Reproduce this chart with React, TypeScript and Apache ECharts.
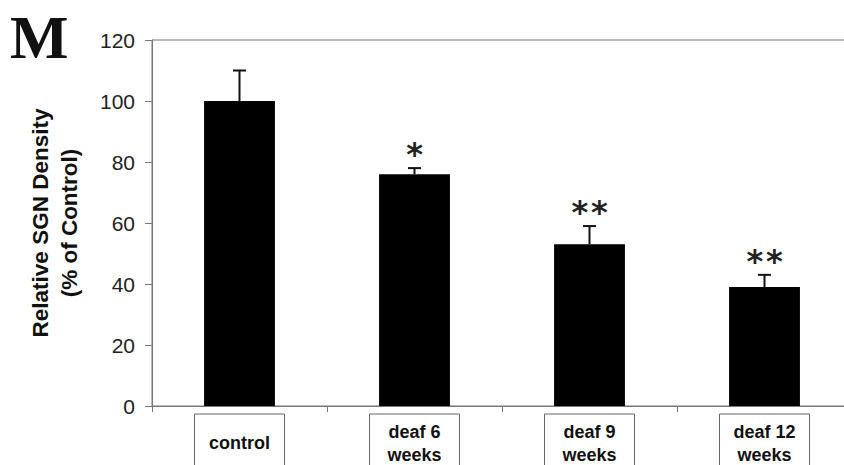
import React, { useEffect, useRef } from "react";
import * as echarts from "echarts";

const categories = ["control", "deaf 6\nweeks", "deaf 9\nweeks", "deaf 12\nweeks"];
const means = [100, 76, 53, 39];
const upperErrors = [10, 2, 6, 4];
const significance = ["", "*", "**", "**"];
const yTicks = { min: 0, max: 120, interval: 20 };
const panelLetter = "M";
const yTitle = "Relative SGN Density\n(% of Control)";

export default function App() {
  const ref = useRef<HTMLDivElement>(null);
  useEffect(() => {
    const chart = echarts.init(ref.current!, undefined, { renderer: "svg" });
    const errData = means.map((m, i) => [i, m, m + upperErrors[i]]);
    chart.setOption({
      animation: false,
      backgroundColor: "#fff",
      grid: {
        left: 152, right: -8, top: 40, bottom: 59,
        outerBoundsMode: "none", containLabel: false,
        show: true, borderColor: "#777", borderWidth: 1, backgroundColor: "transparent",
      },
      graphic: [
        {
          type: "text",
          left: 10,
          top: 6,
          style: { text: panelLetter, fontFamily: "Liberation Serif", fontWeight: "bold", fontSize: 62, lineHeight: 50, fill: "#111" },
        },
      ],
      xAxis: {
        type: "category",
        data: categories,
        axisLine: { lineStyle: { color: "#777", width: 1 } },
        axisTick: { show: true, length: 6, lineStyle: { color: "#777" } },
        axisLabel: {
          interval: 0,
          margin: 8,
          width: 90,
          height: 52,
          padding: [6, 0, 0, 0],
          borderColor: "#666",
          borderWidth: 1,
          align: "center",
          formatter: (v: string) => {
            const parts = v.split("\n");
            if (parts.length > 1) return parts.map((p) => `{b|${p}}`).join("\n");
            return `{c|${v}}`;
          },
          rich: {
            b: { fontFamily: "Liberation Sans", fontWeight: "bold", fontSize: 18, lineHeight: 23, color: "#111", width: 90, align: "center" },
            c: { fontFamily: "Liberation Sans", fontWeight: "bold", fontSize: 18, lineHeight: 46, color: "#111", width: 90, align: "center" },
          },
        },
      },
      yAxis: {
        type: "value",
        min: yTicks.min,
        max: yTicks.max,
        interval: yTicks.interval,
        name: yTitle,
        nameLocation: "middle",
        nameGap: 68,
        nameTextStyle: { fontFamily: "Liberation Sans", fontWeight: "bold", fontSize: 22.5, lineHeight: 29, color: "#111" },
        axisLine: { show: true, lineStyle: { color: "#777", width: 1 } },
        axisTick: { show: true, length: 7, lineStyle: { color: "#777" } },
        axisLabel: { margin: 17, fontFamily: "Liberation Sans", fontSize: 21, color: "#222" },
        splitLine: { show: false },
      },
      series: [
        {
          type: "bar",
          data: means,
          barWidth: "40.5%",
          itemStyle: { color: "#000" },
        },
        {
          type: "custom",
          data: errData,
          z: 3,
          renderItem: (params: any, api: any) => {
            const idx = api.value(0);
            const base = api.coord([idx, api.value(1)]);
            const top = api.coord([idx, api.value(2)]);
            const cap = 6.5;
            const children: any[] = [
              { type: "line", shape: { x1: base[0], y1: base[1], x2: top[0], y2: top[1] }, style: { stroke: "#111", lineWidth: 2 } },
              { type: "line", shape: { x1: top[0] - cap, y1: top[1], x2: top[0] + cap, y2: top[1] }, style: { stroke: "#111", lineWidth: 2 } },
            ];
            const sig = significance[params.dataIndex];
            const chars = sig.split("");
            chars.forEach((ch, k) => {
              children.push({
                type: "text",
                style: {
                  text: ch,
                  x: top[0] + (k - (chars.length - 1) / 2) * 19.5,
                  y: top[1] - 14,
                  align: "center",
                  verticalAlign: "middle",
                  fontFamily: "DejaVu Sans",
                  fontWeight: "bold",
                  fontSize: 32,
                  fill: "#222",
                },
              });
            });
            return { type: "group", children };
          },
        },
      ],
    });
    return () => chart.dispose();
  }, []);
  return <div ref={ref} style={{ position: "fixed", left: 0, top: 0, width: 844, height: 465 }} />;
}
